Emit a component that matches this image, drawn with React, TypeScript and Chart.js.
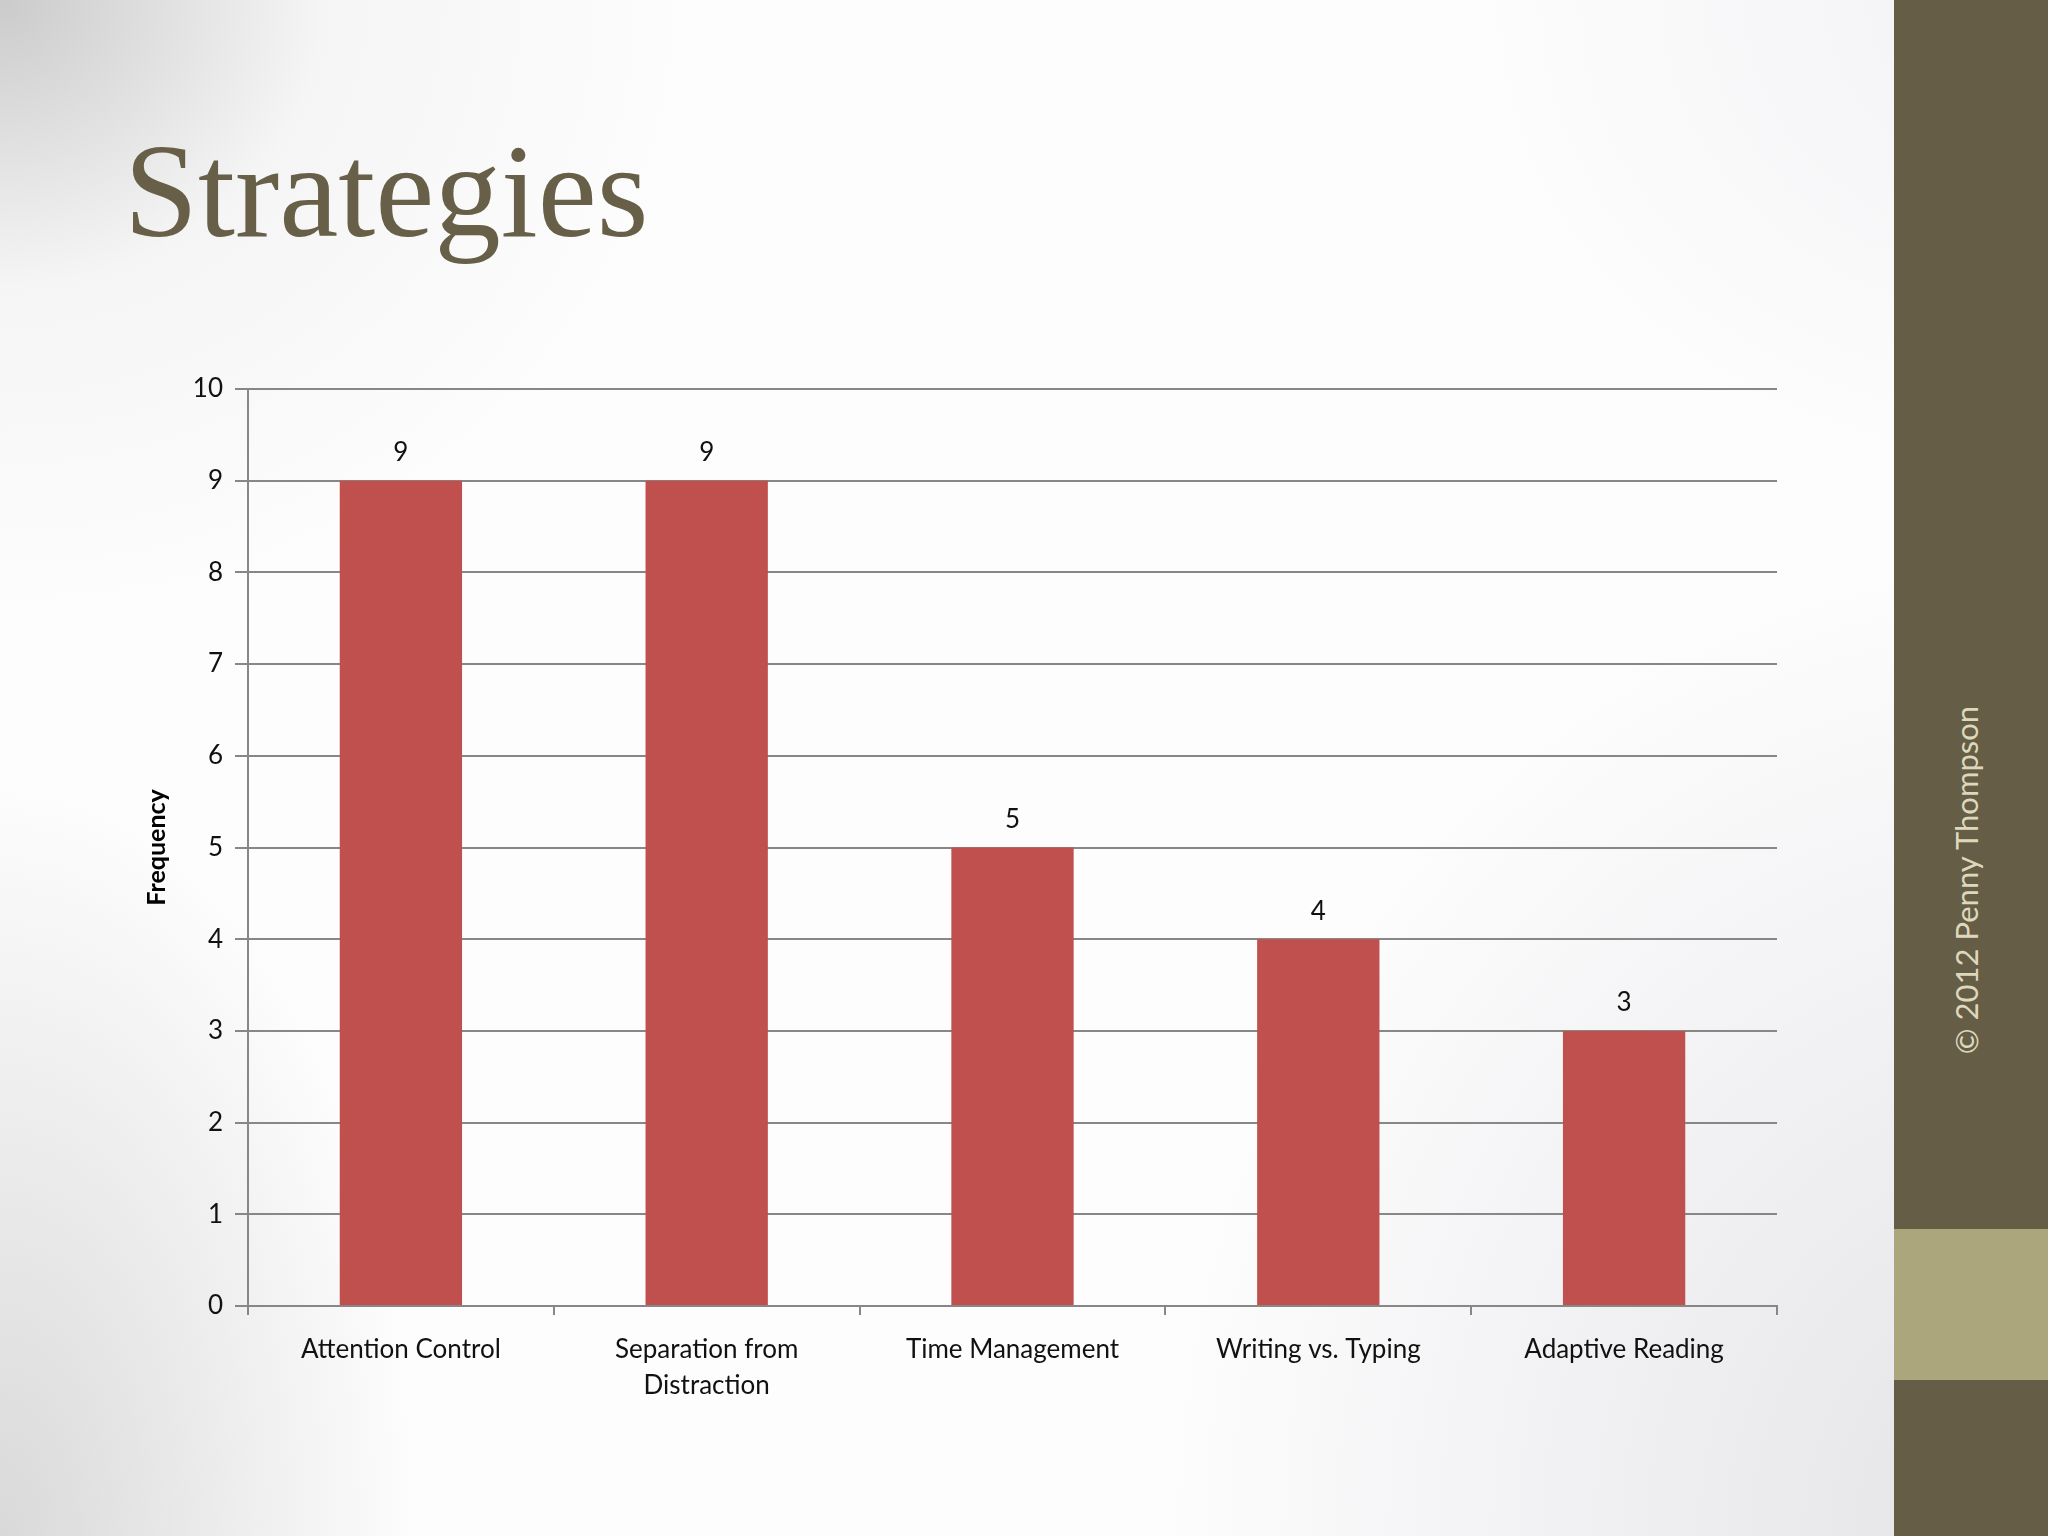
import React, { useEffect, useRef } from "react";
import Chart from "chart.js/auto";

// values
const categories: (string | string[])[] = [
  "Attention Control",
  ["Separation from", "Distraction"],
  "Time Management",
  "Writing vs. Typing",
  "Adaptive Reading",
];
const frequency: number[] = [9, 9, 5, 4, 3];
const yTicks: number[] = [0, 1, 2, 3, 4, 5, 6, 7, 8, 9, 10];

const axisGray = "#878787";
const labelFont = "Lato, 'Open Sans', sans-serif";

// draws the number above each bar (no datalabels plugin available)
const barValues = {
  id: "barValues",
  afterDatasetsDraw(chart: any) {
    const ctx = chart.ctx;
    const meta = chart.getDatasetMeta(0);
    ctx.save();
    ctx.font = `26px ${labelFont}`;
    ctx.fillStyle = "#111";
    ctx.textAlign = "center";
    ctx.textBaseline = "middle";
    meta.data.forEach((bar: any, i: number) => {
      ctx.fillText(String(frequency[i]), bar.x, bar.y - 28);
    });
    ctx.restore();
  },
};

const StrategiesChart: React.FC = () => {
  const chartRef = useRef<HTMLCanvasElement>(null);

  useEffect(() => {
    let chart: Chart | null = null;
    if (chartRef.current) {
      const ctx = chartRef.current.getContext("2d");
      if (ctx) {
        chart = new Chart(ctx, {
          type: "bar",
          data: {
            labels: categories,
            datasets: [
              {
                label: "Frequency",
                data: frequency,
                backgroundColor: "#c0504d",
                borderWidth: 0,
                categoryPercentage: 1,
                barPercentage: 0.4,
              },
            ],
          },
          options: {
            animation: false,
            responsive: true,
            maintainAspectRatio: false,
            layout: { padding: { left: 135, right: 271, top: 389, bottom: 132 } },
            plugins: {
              legend: { display: false },
              tooltip: { enabled: false },
            },
            scales: {
              x: {
                grid: {
                  drawOnChartArea: false,
                  drawTicks: true,
                  tickLength: 9,
                  color: axisGray,
                  lineWidth: 2,
                },
                border: { display: true, color: axisGray, width: 2 },
                ticks: {
                  color: "#111",
                  padding: 17,
                  font: { family: labelFont, size: 26, lineHeight: 1.38 },
                  maxRotation: 0,
                  autoSkip: false,
                },
                afterFit: (scale: any) => {
                  scale.height = 98;
                },
              },
              y: {
                min: 0,
                max: 10,
                afterBuildTicks: (scale: any) => {
                  scale.ticks = yTicks.map((v) => ({ value: v }));
                },
                grid: {
                  color: axisGray,
                  lineWidth: 2,
                  tickLength: 13,
                  drawTicks: true,
                },
                border: { display: true, color: axisGray, width: 2 },
                ticks: {
                  color: "#111",
                  padding: 12,
                  font: { family: labelFont, size: 26 },
                },
                title: {
                  display: true,
                  text: "Frequency",
                  color: "#000",
                  padding: { top: 7, bottom: 0 },
                  font: { family: labelFont, size: 25, weight: "bold" },
                },
                afterFit: (scale: any) => {
                  scale.width = 113;
                },
              },
            },
          },
          plugins: [barValues],
        });
      }
    }
    return () => {
      if (chart) chart.destroy();
    };
  }, []);

  return <canvas ref={chartRef} />;
};

const App: React.FC = () => {
  return (
    <div
      style={{
        position: "fixed",
        left: 0,
        top: 0,
        width: 2048,
        height: 1536,
        overflow: "hidden",
        background:
          "radial-gradient(ellipse 720px 640px at 0% 0%, #cbcbcb 0%, rgba(240,240,240,0.6) 45%, rgba(255,255,255,0) 100%)," +
          "radial-gradient(ellipse 420px 760px at 0% 100%, #d9d9d9 0%, rgba(255,255,255,0) 100%)," +
          "radial-gradient(ellipse 900px 1000px at 100% 100%, #e3e3e6 0%, rgba(255,255,255,0) 100%)," +
          "radial-gradient(ellipse 600px 500px at 100% 0%, #f2f2f4 0%, rgba(255,255,255,0) 100%)," +
          "#fdfdfe",
      }}
    >
      <div
        style={{
          position: "absolute",
          left: 124,
          top: 116,
          fontFamily: "'Liberation Serif', serif",
          fontSize: 133,
          lineHeight: "150px",
          color: "#675f48",
          whiteSpace: "nowrap",
        }}
      >
        Strategies
      </div>
      <div
        style={{
          position: "absolute",
          left: 1894,
          top: 0,
          width: 154,
          height: 1536,
          background: "#665d46",
        }}
      />
      <div
        style={{
          position: "absolute",
          left: 1894,
          top: 1229,
          width: 154,
          height: 151,
          background: "#aba67c",
        }}
      />
      <div
        style={{
          position: "absolute",
          left: 1966,
          top: 880,
          transform: "translate(-50%, -50%) rotate(-90deg)",
          fontFamily: labelFont,
          fontSize: 31,
          color: "#ddd8bb",
          whiteSpace: "nowrap",
        }}
      >
        © 2012 Penny Thompson
      </div>
      <div style={{ position: "absolute", left: 0, top: 0, width: 2048, height: 1536 }}>
        <StrategiesChart />
      </div>
    </div>
  );
};

export default App;
